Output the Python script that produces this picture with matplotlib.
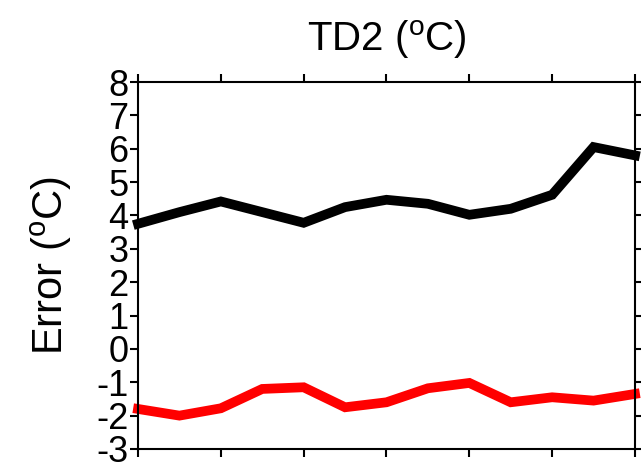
import matplotlib
matplotlib.use('Agg')
import matplotlib.pyplot as plt

# data
steps = list(range(13))
black_err = [3.75, 4.1, 4.42, 4.1, 3.78, 4.25, 4.47, 4.35, 4.02, 4.2, 4.62, 6.05, 5.8]
red_err = [-1.8, -2.0, -1.78, -1.2, -1.15, -1.75, -1.6, -1.18, -1.02, -1.6, -1.45, -1.55, -1.35]
yticks = list(range(-3, 9))
xticks = list(range(0, 13, 2))

plt.rcParams['font.family'] = ['Liberation Sans', 'DejaVu Sans']
plt.rcParams['mathtext.default'] = 'regular'

fig = plt.figure(figsize=(6.41, 4.66), dpi=100)
ax = fig.add_axes([0.2153, 0.0365, 0.7753, 0.7875])

ax.plot(steps, black_err, color='black', lw=7, solid_joinstyle='miter', clip_on=False)
ax.plot(steps, red_err, color='red', lw=7, solid_joinstyle='miter', clip_on=False)

ax.set_xlim(0, 12)
ax.set_ylim(-3, 8)
ax.set_yticks(yticks)
ax.set_yticklabels([str(v) for v in yticks], fontsize=26)
ax.set_xticks(xticks)
ax.set_xticklabels([])
ax.tick_params(axis='both', direction='out', length=6, width=1.5,
               top=True, right=True, pad=2)
ax.tick_params(axis='y', pad=1)
for s in ax.spines.values():
    s.set_linewidth(1.5)

ax.set_title(r'TD2 ($^{o}$C)', fontsize=29, pad=22)
ax.set_ylabel(r'Error ($^{o}$C)', fontsize=30, labelpad=16)

fig.savefig('out.png', dpi=100)
